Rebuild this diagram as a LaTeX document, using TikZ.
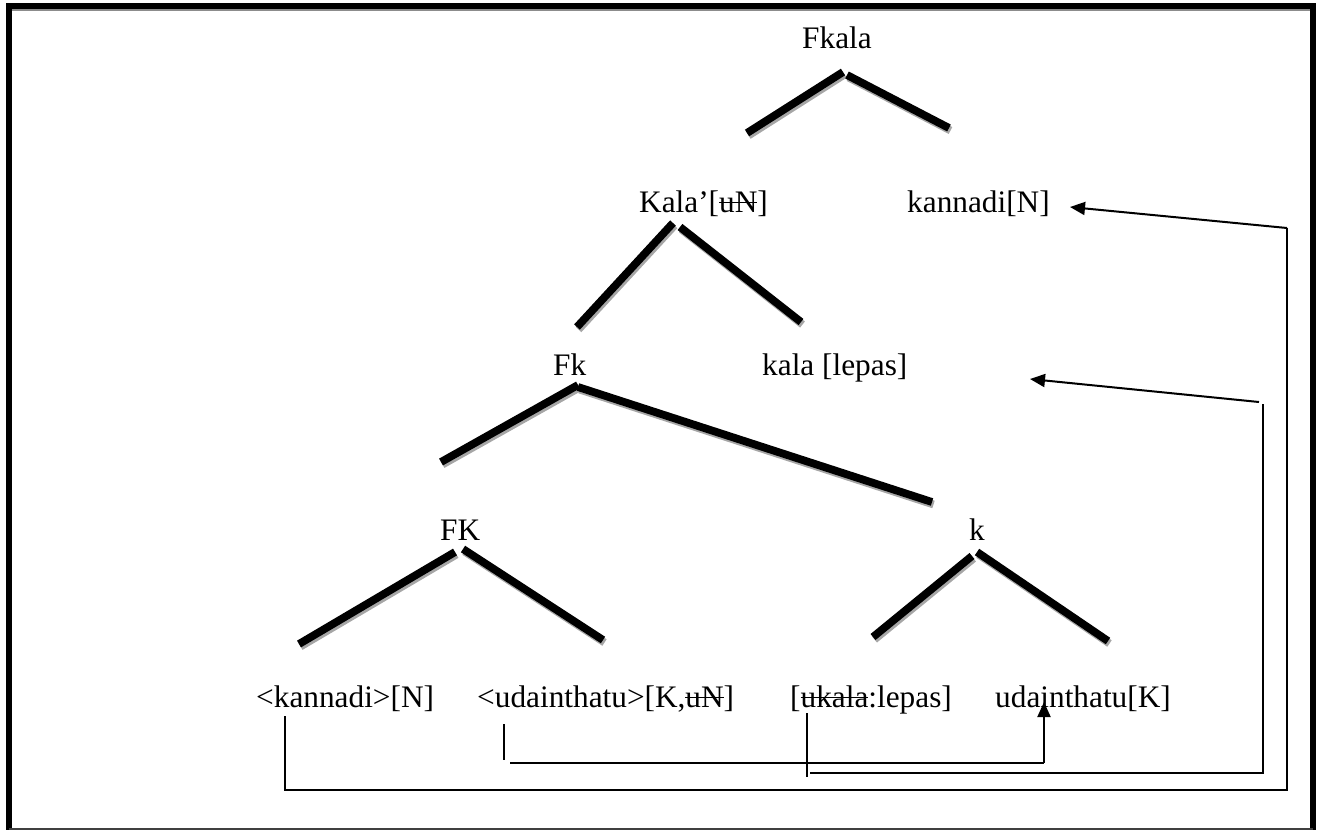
\documentclass[tikz,border=0pt]{standalone}
\usepackage{fontspec}
\setmainfont{Liberation Serif}
\usetikzlibrary{arrows.meta}
\newsavebox\strkbox
\newcommand\strk[1]{\sbox\strkbox{#1}\rlap{\rule[0.28em]{\wd\strkbox}{1.3pt}}\usebox\strkbox}
\begin{document}
\begin{tikzpicture}[x=1pt,y=-1pt,
  lbl/.style={anchor=base west, inner sep=0pt, font=\fontsize{31.3}{36}\selectfont},
  branch/.style={line width=7.8pt, black},
  shadowline/.style={line width=7.8pt, black!35},
  thinline/.style={line width=1.4pt, black},
  arr/.style={line width=2pt, -{Triangle[length=15pt,width=13pt]}},
  frameline/.style={line width=6pt, black}]
\useasboundingbox (0,0) rectangle (1319,831);
% frame
\draw[line width=1.5pt, black!45] (12,10) -- (1310,10);
\draw[frameline] (6,6) -- (1316,6);
\draw[frameline] (9,3) -- (9,830);
\draw[frameline] (1313,3) -- (1313,830);
\draw[line width=1.6pt, black!75] (9,829) -- (1313,829);

% labels
\node[lbl] (fkala) at (802,48) {Fkala};
\node[lbl] (kalap) at (639,212) {Kala’[\strk{uN}]};
\node[lbl] (kannadiN) at (907,212) {kannadi[N]};
\node[lbl] (fk) at (553,375) {Fk};
\node[lbl] (kalalepas) at (762,375) {kala [lepas]};
\node[lbl] (FK) at (440,540) {FK};
\node[lbl] (k) at (969,540) {k};
\node[lbl] (kann) at (256,707) {<kannadi>[N]};
\node[lbl] (udai) at (477,707) {<udainthatu>[K,\strk{uN}]};
\node[lbl] (ukala) at (790,707) {[\strk{ukala}:lepas]};
\node[lbl] (udaiK) at (995,707) {udainthatu[K]};

% branch end points
\coordinate (b1a) at (747,133); \coordinate (b1b) at (843,72);
\coordinate (b2a) at (847,75);  \coordinate (b2b) at (949,128);
\coordinate (b3a) at (577,327); \coordinate (b3b) at (673,223);
\coordinate (b4a) at (680,227); \coordinate (b4b) at (801,322);
\coordinate (b5a) at (441,462); \coordinate (b5b) at (578,385);
\coordinate (b6a) at (578,387); \coordinate (b6b) at (932,502);
\coordinate (b7a) at (299,644); \coordinate (b7b) at (455,552);
\coordinate (b8a) at (463,549); \coordinate (b8b) at (603,640);
\coordinate (b9a) at (873,637); \coordinate (b9b) at (972,556);
\coordinate (b10a) at (977,552); \coordinate (b10b) at (1108,641);
\foreach \n in {1,...,10}{
  \draw[shadowline] ([shift={(1.5,2.5)}]b\n a) -- ([shift={(1.5,2.5)}]b\n b);
}
\foreach \n in {1,...,10}{
  \draw[branch] (b\n a) -- (b\n b);
}

% connectors
\coordinate (c1a) at (285,716); \coordinate (c1b) at (285,790);
\coordinate (c1c) at (1287,790); \coordinate (c1d) at (1287,228);
\coordinate (t1) at (1070,207);
\draw[thinline] (c1a) -- (c1b) -- (c1c) -- (c1d);
\draw[arr] (c1d) -- (t1);

\coordinate (c2a) at (807,713); \coordinate (c2b) at (807,777);
\coordinate (c2c) at (810,773); \coordinate (c2d) at (1263,773);
\coordinate (c2e) at (1263,404); \coordinate (c2f) at (1259,402);
\coordinate (t2) at (1030,379);
\draw[thinline] (c2a) -- (c2b);
\draw[thinline] (c2c) -- (c2d) -- (c2e);
\draw[arr] (c2f) -- (t2);

\coordinate (c3a) at (504,724); \coordinate (c3b) at (504,760);
\coordinate (c3c) at (510,763); \coordinate (c3d) at (1044,763);
\coordinate (t3) at (1044,702);
\draw[thinline] (c3a) -- (c3b);
\draw[thinline] (c3c) -- (c3d);
\draw[arr] (c3d) -- (t3);
\end{tikzpicture}
\end{document}
